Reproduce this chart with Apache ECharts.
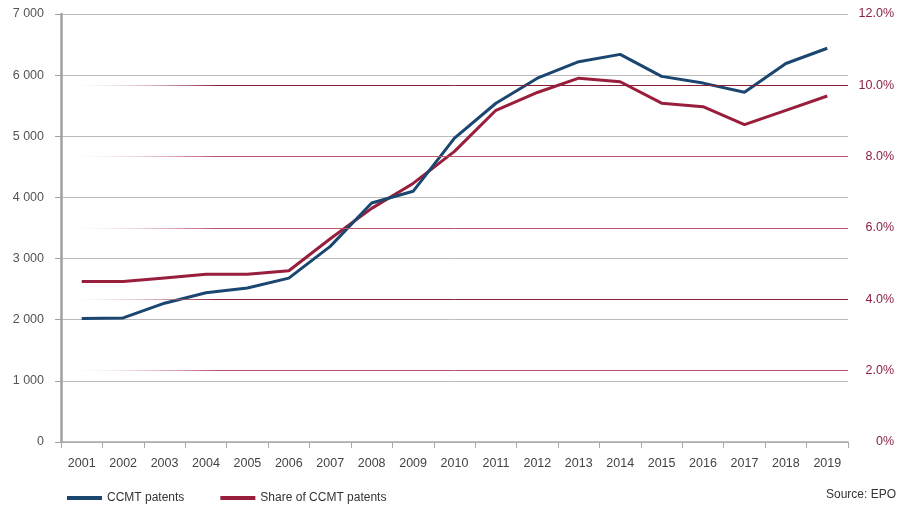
<!DOCTYPE html>
<html><head><meta charset="utf-8">
<script src="https://cdn.jsdelivr.net/npm/echarts@6/dist/echarts.min.js"></script>
<style>html,body{margin:0;padding:0;background:#fff}#c{width:897px;height:505px}</style>
</head><body><div id="c"></div>
<script>
const years = ['2001','2002','2003','2004','2005','2006','2007','2008','2009','2010','2011','2012','2013','2014','2015','2016','2017','2018','2019'];
const ccmtPatents = [2020,2030,2270,2440,2520,2680,3200,3910,4100,4970,5540,5950,6220,6340,5980,5870,5720,6190,6440];
const ccmtShare = [4.5,4.5,4.6,4.7,4.7,4.8,5.7,6.55,7.25,8.15,9.3,9.8,10.2,10.1,9.5,9.4,8.9,9.3,9.7];
const leftTicks = [0,1000,2000,3000,4000,5000,6000,7000];
const rightTicks = [0,2,4,6,8,10,12];
const shareGridLines = [2,4,6,8,10];

const chart = echarts.init(document.getElementById('c'));
const font = '"Liberation Sans", Arial, sans-serif';
const fade = (c) => new echarts.graphic.LinearGradient(0,0,1,0,[{offset:0,color:'rgba(255,255,255,0)'},{offset:0.2,color:c},{offset:1,color:c}]);
const darkLines = [4,10];
chart.setOption({
  animation:false,
  textStyle:{fontFamily:font},
  grid:{left:61,right:46,top:14,bottom:63,containLabel:false},
  legend:{
    top:487,left:62,itemGap:36,itemWidth:35,itemHeight:4,icon:'rect',
    textStyle:{fontSize:12,color:'#333',fontFamily:font},
    data:['CCMT patents','Share of CCMT patents']
  },
  graphic:[{type:'text',right:1,top:489,style:{text:'Source: EPO',fontSize:12,fill:'#333',fontFamily:font}}],
  xAxis:{
    type:'category',data:years,boundaryGap:true,
    axisLine:{lineStyle:{color:'#a8a8a8',width:1.5}},
    axisTick:{show:true,length:6,lineStyle:{color:'#a8a8a8'}},
    axisLabel:{color:'#444',fontSize:12.5,margin:15,interval:0}
  },
  yAxis:[{
    type:'value',min:0,max:7000,interval:1000,position:'left',
    axisLine:{show:true,lineStyle:{color:'#a0a0a0',width:2.5}},
    axisTick:{show:true,length:6,lineStyle:{color:'#a0a0a0'}},
    axisLabel:{color:'#555',fontSize:12.5,margin:17,formatter:v=>String(v).replace(/\B(?=(\d{3})+(?!\d))/g,' ')},
    splitLine:{show:true,lineStyle:{color:'#bcbcbc',width:1}}
  },{
    type:'value',min:0,max:12,interval:2,position:'right',
    axisLine:{show:false},axisTick:{show:false},
    axisLabel:{color:'#8b2040',fontSize:12.5,margin:46,align:'right',formatter:v=>v===0?'0%':v.toFixed(1)+'%'},
    splitLine:{show:false}
  }],
  series:[{
    name:'CCMT patents',type:'line',data:ccmtPatents,yAxisIndex:0,
    symbol:'none',lineStyle:{color:'#1a4670',width:3},itemStyle:{color:'#1a4670'},z:3
  },{
    name:'Share of CCMT patents',type:'line',data:ccmtShare,yAxisIndex:1,
    symbol:'none',lineStyle:{color:'#981e3c',width:3},itemStyle:{color:'#981e3c'},z:2,
    markLine:{
      silent:true,symbol:'none',label:{show:false},
      data:shareGridLines.map(v=>({yAxis:v,lineStyle:{type:'solid',width:1,color:fade(darkLines.includes(v)?'#8a2038':'#b8506a')}}))
    }
  }]
});
</script></body></html>
